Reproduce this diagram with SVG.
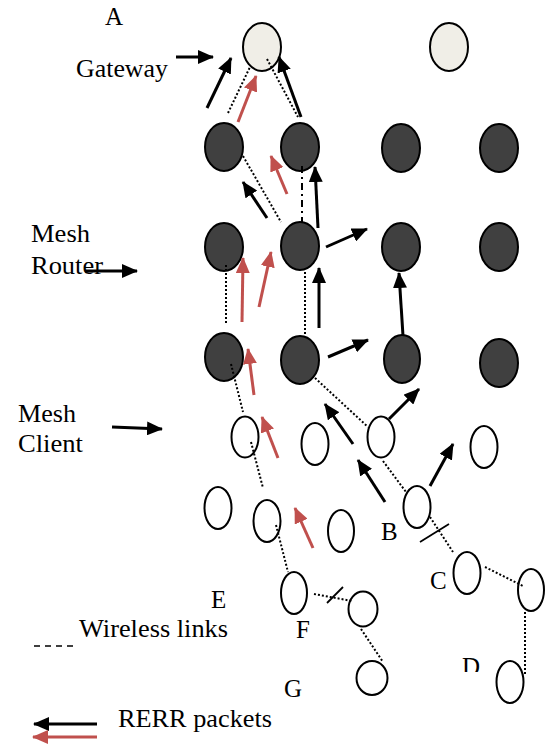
<svg xmlns="http://www.w3.org/2000/svg" width="553" height="744" viewBox="0 0 553 744">
<style>
.t{font-family:"Liberation Serif","Times New Roman",serif;font-size:25px;fill:#000}
.gw{fill:#f0eee7;stroke:#000;stroke-width:2}
.rt{fill:#404040;stroke:#000;stroke-width:2}
.cl{fill:#fff;stroke:#000;stroke-width:2}
.dot{stroke:#000;stroke-width:2;stroke-dasharray:2 2;fill:none}
.dd{stroke:#000;stroke-width:2;stroke-dasharray:7 4 2 4;fill:none}
.ab{stroke:#000;stroke-width:3;fill:none;marker-end:url(#hb)}
.ar{stroke:#c0504d;stroke-width:3;fill:none;marker-end:url(#hr)}
.sl{stroke:#000;stroke-width:1.8}
</style>
<defs>
<marker id="hb" markerUnits="userSpaceOnUse" markerWidth="16" markerHeight="14" viewBox="0 0 16 14" refX="15" refY="7" orient="auto"><path d="M0,0 L16,7 L0,14 z" fill="#000"/></marker>
<marker id="hr" markerUnits="userSpaceOnUse" markerWidth="16" markerHeight="14" viewBox="0 0 16 14" refX="15" refY="7" orient="auto"><path d="M0,0 L16,7 L0,14 z" fill="#c0504d"/></marker>
<clipPath id="clipD"><rect x="450" y="640" width="40" height="32"/></clipPath>
</defs>

<g id="gateways">
<g id="gw1"><ellipse class="gw" cx="262" cy="47" rx="19" ry="24"/></g>
<g id="gw2"><ellipse class="gw" cx="449" cy="47" rx="19" ry="24"/></g>
</g>

<g id="routers">
<g id="r11"><ellipse class="rt" cx="224" cy="147" rx="19" ry="24"/></g>
<g id="r12"><ellipse class="rt" cx="300" cy="147" rx="19" ry="24"/></g>
<g id="r13"><ellipse class="rt" cx="401" cy="148" rx="19" ry="24"/></g>
<g id="r14"><ellipse class="rt" cx="499" cy="148" rx="19" ry="24"/></g>
<g id="r21"><ellipse class="rt" cx="224" cy="247" rx="19" ry="24"/></g>
<g id="r22"><ellipse class="rt" cx="300" cy="246" rx="19" ry="24"/></g>
<g id="r23"><ellipse class="rt" cx="401" cy="247" rx="19" ry="24"/></g>
<g id="r24"><ellipse class="rt" cx="499" cy="247" rx="19" ry="24"/></g>
<g id="r31"><ellipse class="rt" cx="224" cy="357" rx="19" ry="24"/></g>
<g id="r32"><ellipse class="rt" cx="300" cy="360" rx="19" ry="24"/></g>
<g id="r33"><ellipse class="rt" cx="402" cy="359" rx="18" ry="24"/></g>
<g id="r34"><ellipse class="rt" cx="499" cy="363" rx="19" ry="24"/></g>
</g>

<g id="clients">
<g id="c1"><ellipse class="cl" cx="245" cy="437" rx="13.5" ry="20.5"/></g>
<g id="c2"><ellipse class="cl" cx="315" cy="444" rx="13.5" ry="21"/></g>
<g id="c3"><ellipse class="cl" cx="381" cy="437" rx="13.5" ry="20.5"/></g>
<g id="c4"><ellipse class="cl" cx="484" cy="447" rx="13.5" ry="21"/></g>
<g id="c5"><ellipse class="cl" cx="218" cy="508" rx="13.5" ry="21"/></g>
<g id="c6"><ellipse class="cl" cx="267" cy="521" rx="13.5" ry="21"/></g>
<g id="c7"><ellipse class="cl" cx="341" cy="531" rx="13" ry="21"/></g>
<g id="nodeB"><ellipse class="cl" cx="417" cy="507" rx="13.5" ry="21"/></g>
<g id="nodeC"><ellipse class="cl" cx="467" cy="573" rx="13.5" ry="21"/></g>
<g id="c10"><ellipse class="cl" cx="531" cy="590" rx="13" ry="21"/></g>
<g id="nodeD"><ellipse class="cl" cx="510" cy="682" rx="13.5" ry="21"/></g>
<g id="nodeF"><ellipse class="cl" cx="294" cy="593" rx="13" ry="21"/></g>
<g id="c12"><ellipse class="cl" cx="363" cy="609" rx="14.5" ry="17.5"/></g>
<g id="nodeG"><ellipse class="cl" cx="372" cy="678" rx="15.5" ry="17"/></g>
</g>

<g id="connectors">
<line class="dot" x1="228" y1="113" x2="250" y2="67"/>
<line class="dot" x1="267" y1="59" x2="298" y2="117"/>
<line class="dot" x1="243" y1="156" x2="281" y2="222"/>
<line class="dd" x1="302" y1="166" x2="302" y2="223"/>
<line class="dot" x1="226" y1="265" x2="226" y2="323"/>
<line class="dot" x1="305" y1="272" x2="305" y2="336"/>
<line class="dot" x1="231" y1="364" x2="243" y2="412"/>
<line class="dot" x1="251" y1="442" x2="263" y2="488"/>
<line class="dot" x1="276" y1="525" x2="288" y2="572"/>
<line class="dot" x1="315" y1="378" x2="368" y2="427"/>
<line class="dot" x1="383" y1="461" x2="406" y2="492"/>
<line class="dot" x1="430" y1="517" x2="453" y2="552"/>
<line class="dot" x1="485" y1="567" x2="523" y2="586"/>
<line class="dot" x1="525" y1="612" x2="525" y2="675"/>
<line class="dot" x1="314" y1="594" x2="352" y2="601"/>
<line class="dot" x1="361" y1="629" x2="383" y2="662"/>
<line class="sl" x1="420" y1="542" x2="449" y2="524"/>
<line class="sl" x1="327" y1="603" x2="343" y2="587"/>

<line class="ab" x1="176" y1="57" x2="213" y2="57"/>
<line class="ab" x1="207" y1="108" x2="231" y2="58"/>
<line class="ab" x1="301" y1="117" x2="279" y2="57"/>
<line class="ab" x1="85" y1="271" x2="137" y2="271"/>
<line class="ab" x1="267" y1="218" x2="243" y2="182"/>
<line class="ab" x1="318" y1="228" x2="315" y2="167"/>
<line class="ab" x1="326" y1="247" x2="367" y2="229"/>
<line class="ab" x1="319" y1="328" x2="319" y2="268"/>
<line class="ab" x1="403" y1="336" x2="399" y2="273"/>
<line class="ab" x1="328" y1="357" x2="368" y2="340"/>
<line class="ab" x1="353" y1="444" x2="325" y2="404"/>
<line class="ab" x1="389" y1="419" x2="419" y2="389"/>
<line class="ab" x1="385" y1="502" x2="358" y2="460"/>
<line class="ab" x1="430" y1="486" x2="453" y2="444"/>
<line class="ab" x1="112" y1="427" x2="162" y2="429"/>

<line class="ar" x1="238" y1="122" x2="256" y2="76"/>
<line class="ar" x1="287" y1="194" x2="271" y2="156"/>
<line class="ar" x1="242" y1="322" x2="243" y2="258"/>
<line class="ar" x1="259" y1="307" x2="271" y2="252"/>
<line class="ar" x1="254" y1="395" x2="248" y2="349"/>
<line class="ar" x1="278" y1="458" x2="262" y2="417"/>
<line class="ar" x1="313" y1="548" x2="295" y2="508"/>
</g>

<g id="labels">
<text class="t" x="105" y="25">A</text>
<text class="t" x="76" y="77" textLength="92" lengthAdjust="spacingAndGlyphs">Gateway</text>
<text class="t" x="31" y="242" textLength="59" lengthAdjust="spacingAndGlyphs">Mesh</text>
<text class="t" x="31" y="274" textLength="72" lengthAdjust="spacingAndGlyphs">Router</text>
<text class="t" x="18" y="422" textLength="58" lengthAdjust="spacingAndGlyphs">Mesh</text>
<text class="t" x="18" y="452" textLength="65" lengthAdjust="spacingAndGlyphs">Client</text>
<text class="t" x="381" y="540">B</text>
<text class="t" x="430" y="589">C</text>
<text class="t" x="462" y="675" clip-path="url(#clipD)">D</text>
<text class="t" x="211" y="608">E</text>
<text class="t" x="296" y="638">F</text>
<text class="t" x="284" y="697">G</text>
</g>

<g id="legend">
<line x1="34" y1="646" x2="77" y2="646" stroke="#000" stroke-width="1.5" stroke-dasharray="6 5"/>
<text class="t" x="79" y="637" textLength="149" lengthAdjust="spacingAndGlyphs">Wireless links</text>
<line class="ab" x1="97" y1="724" x2="34" y2="724"/>
<line class="ar" x1="97" y1="737" x2="33" y2="737"/>
<text class="t" x="118" y="727" textLength="154" lengthAdjust="spacingAndGlyphs">RERR packets</text>
</g>
</svg>
